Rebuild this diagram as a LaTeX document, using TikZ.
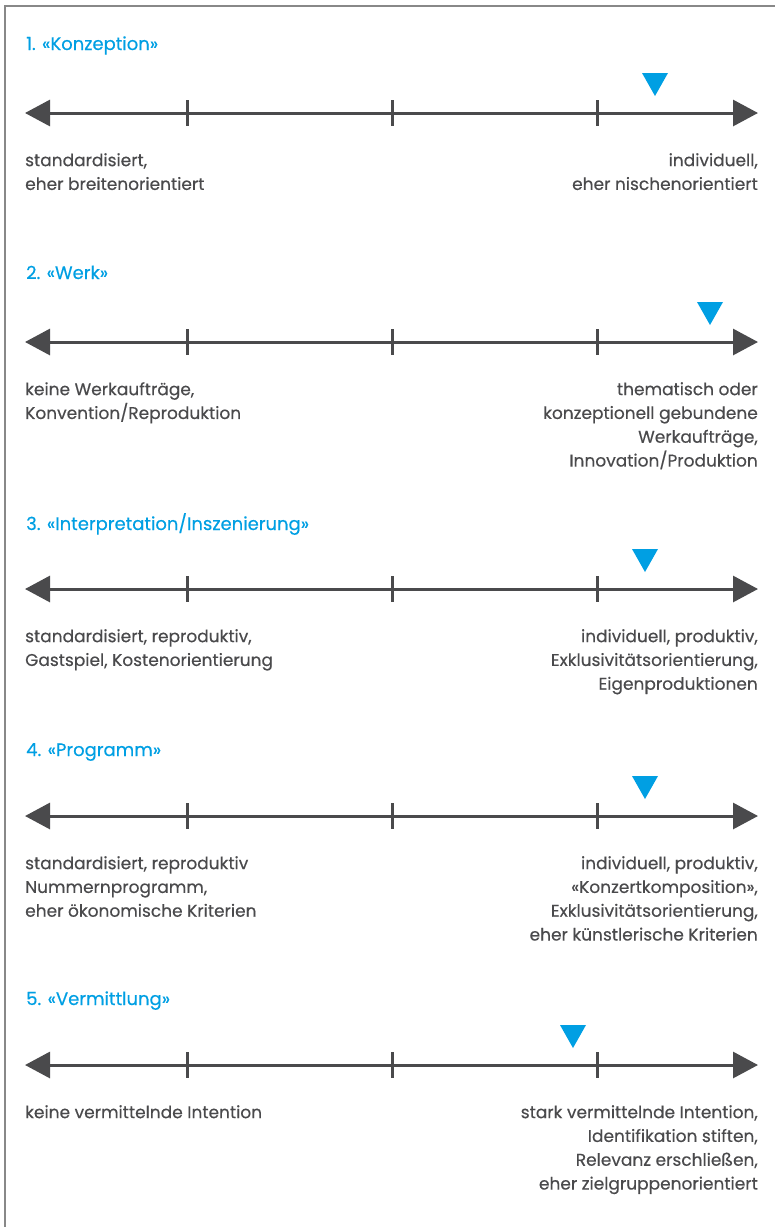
\documentclass[tikz,border=0pt]{standalone}
\usepackage{fontspec}
\setmainfont{Poppins}[FakeBold=0.4]
\usetikzlibrary{arrows.meta}
\definecolor{axisgray}{HTML}{4A4A4C}
\definecolor{textgray}{HTML}{4A4A4C}
\definecolor{markblue}{HTML}{009FE3}
\definecolor{framegray}{HTML}{888888}
\tikzset{
  axis/.style={draw=axisgray, line width=3pt, {Triangle[length=25pt,width=26pt]}-{Triangle[length=25pt,width=26pt]}},
  tick/.style={draw=axisgray, line width=3pt},
  marker/.style={fill=markblue, draw=none},
  title/.style={anchor=base west, inner sep=0pt, text=markblue, font=\fontsize{18}{24}\selectfont},
  lefttext/.style={anchor=north west, inner sep=0pt, align=left, text=textgray, font=\fontsize{17}{23.8}\selectfont},
  righttext/.style={anchor=north east, inner sep=0pt, align=right, text=textgray, font=\fontsize{17}{23.8}\selectfont},
}
\newcommand{\myaxis}[3]{%
  % #1 name, #2 y, #3 marker x
  \coordinate (#1l) at (25,#2);
  \coordinate (#1r) at (758,#2);
  \draw[axis] (#1l) -- (#1r);
  \foreach \tx in {187,392,597} {\draw[tick] (\tx,#2-13) -- (\tx,#2+13);}
  \fill[marker] (#3-13,#2-40) -- (#3+13,#2-40) -- (#3,#2-17) -- cycle;
}
\begin{document}
\begin{tikzpicture}[x=1pt,y=-1pt]
\useasboundingbox (0,0) rectangle (775,1227);
\draw[framegray, line width=2pt] (5,1227) -- (5,5.5) -- (775,5.5);

\node[title] (t1) at (26,50) {1. «Konzeption»};
\myaxis{a1}{113}{655}
\node[lefttext] (l1) at (25,153) {standardisiert,\\eher breitenorientiert};
\node[righttext] (r1) at (758,153) {individuell,\\eher nischenorientiert};

\node[title] (t2) at (26,279) {2. «Werk»};
\myaxis{a2}{342}{710}
\node[lefttext] (l2) at (25,382) {keine Werkaufträge,\\Konvention/Reproduktion};
\node[righttext] (r2) at (758,382) {thematisch oder\\konzeptionell gebundene\\Werkaufträge,\\Innovation/Produktion};

\node[title] (t3) at (26,530) {3. «Interpretation/Inszenierung»};
\myaxis{a3}{589}{645}
\node[lefttext] (l3) at (25,629) {standardisiert, reproduktiv,\\Gastspiel, Kostenorientierung};
\node[righttext] (r3) at (758,629) {individuell, produktiv,\\Exklusivitätsorientierung,\\Eigenproduktionen};

\node[title] (t4) at (26,756) {4. «Programm»};
\myaxis{a4}{816}{645}
\node[lefttext] (l4) at (25,856) {standardisiert, reproduktiv\\Nummernprogramm,\\eher ökonomische Kriterien};
\node[righttext] (r4) at (758,856) {individuell, produktiv,\\«Konzertkomposition»,\\Exklusivitätsorientierung,\\eher künstlerische Kriterien};

\node[title] (t5) at (26,1005) {5. «Vermittlung»};
\myaxis{a5}{1065}{573}
\node[lefttext] (l5) at (25,1105) {keine vermittelnde Intention};
\node[righttext] (r5) at (758,1105) {stark vermittelnde Intention,\\Identifikation stiften,\\Relevanz erschließen,\\eher zielgruppenorientiert};
\end{tikzpicture}
\end{document}
